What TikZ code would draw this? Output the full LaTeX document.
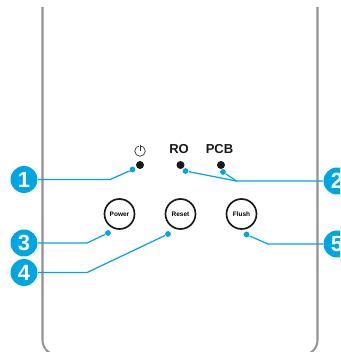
\documentclass[tikz,border=0pt]{standalone}
\usepackage{fontspec}
\setmainfont{Liberation Sans}
\definecolor{callblue}{HTML}{00A6E2}
\definecolor{wallgray}{HTML}{929292}
\tikzset{
  callout/.style={circle,fill=callblue,text=white,inner sep=0pt,minimum size=0.54cm,font=\fontsize{12.5}{13}\selectfont\bfseries},
  tipdot/.style={circle,fill=callblue,inner sep=0pt,minimum size=0.115cm},
  leadline/.style={draw=callblue,line width=0.7pt},
  pushbutton/.style={circle,draw=black!90,line width=0.95pt,fill=white,inner sep=0pt,minimum size=0.6cm,font=\fontsize{3.7}{4}\selectfont\bfseries},
  leddot/.style={circle,fill=black!90,inner sep=0pt,minimum size=0.16cm},
  ledname/.style={text=black!90,inner sep=0pt,font=\fontsize{7.4}{8}\selectfont\bfseries}
}
\begin{document}
\begin{tikzpicture}[scale=0.02]
\useasboundingbox (0,0) rectangle (340,-352);
\clip (0,0) rectangle (340,-352);
% housing
\draw [wallgray,line width=1.15pt,rounded corners=0.3cm] (42.5,-7) -- (42.5,-355) -- (317.5,-355) -- (317.5,-7);
% leds
\node [leddot] (ledpower) at (140,-165) {};
\node [leddot] (ledro) at (180.5,-165) {};
\node [leddot] (ledpcb) at (221,-165) {};
\node [ledname] (namero) at (179,-149) {RO};
\node [ledname] (namepcb) at (219.5,-149) {PCB};
\node [circle,draw=black!80,line width=0.4pt,inner sep=0pt,minimum size=0.21cm] (iconpower) at (140,-151) {};
\draw [white,line width=1pt] (140,-145.5) -- (140,-149);
\draw [black!80,line width=0.4pt] (140,-145) -- (140,-151);
% buttons
\node [pushbutton] (btnpower) at (119.5,-214) {Power};
\node [pushbutton] (btnreset) at (180.5,-214) {Reset};
\node [pushbutton] (btnflush) at (241.5,-214) {Flush};
% callouts
\node [callout] (callone) at (24,-179.5) {1};
\node [callout] (calltwo) at (337,-181) {2};
\node [callout] (callthree) at (24,-243) {3};
\node [callout] (callfour) at (24,-272.5) {4};
\node [callout] (callfive) at (337,-244) {5};
\node [tipdot] (tipone) at (132.5,-169.5) {};
\node [tipdot] (tipro) at (185.5,-171) {};
\node [tipdot] (tippcb) at (223,-172) {};
\node [tipdot] (tipthree) at (108,-233) {};
\node [tipdot] (tipfour) at (168,-234) {};
\node [tipdot] (tipfive) at (246.5,-234.5) {};
\coordinate (bendone) at (110,-179.5);
\coordinate (bendtwo) at (236.5,-181);
\coordinate (bendthree) at (87,-243);
\coordinate (bendfour) at (87,-272.5);
\coordinate (bendfive) at (268,-244);
% leaders
\draw [leadline] (callone) -- (bendone) -- (tipone);
\draw [leadline] (calltwo) -- (bendtwo) -- (tipro);
\draw [leadline] (bendtwo) -- (tippcb);
\draw [leadline] (callthree) -- (bendthree) -- (tipthree);
\draw [leadline] (callfour) -- (bendfour) -- (tipfour);
\draw [leadline] (callfive) -- (bendfive) -- (tipfive);
\end{tikzpicture}
\end{document}
